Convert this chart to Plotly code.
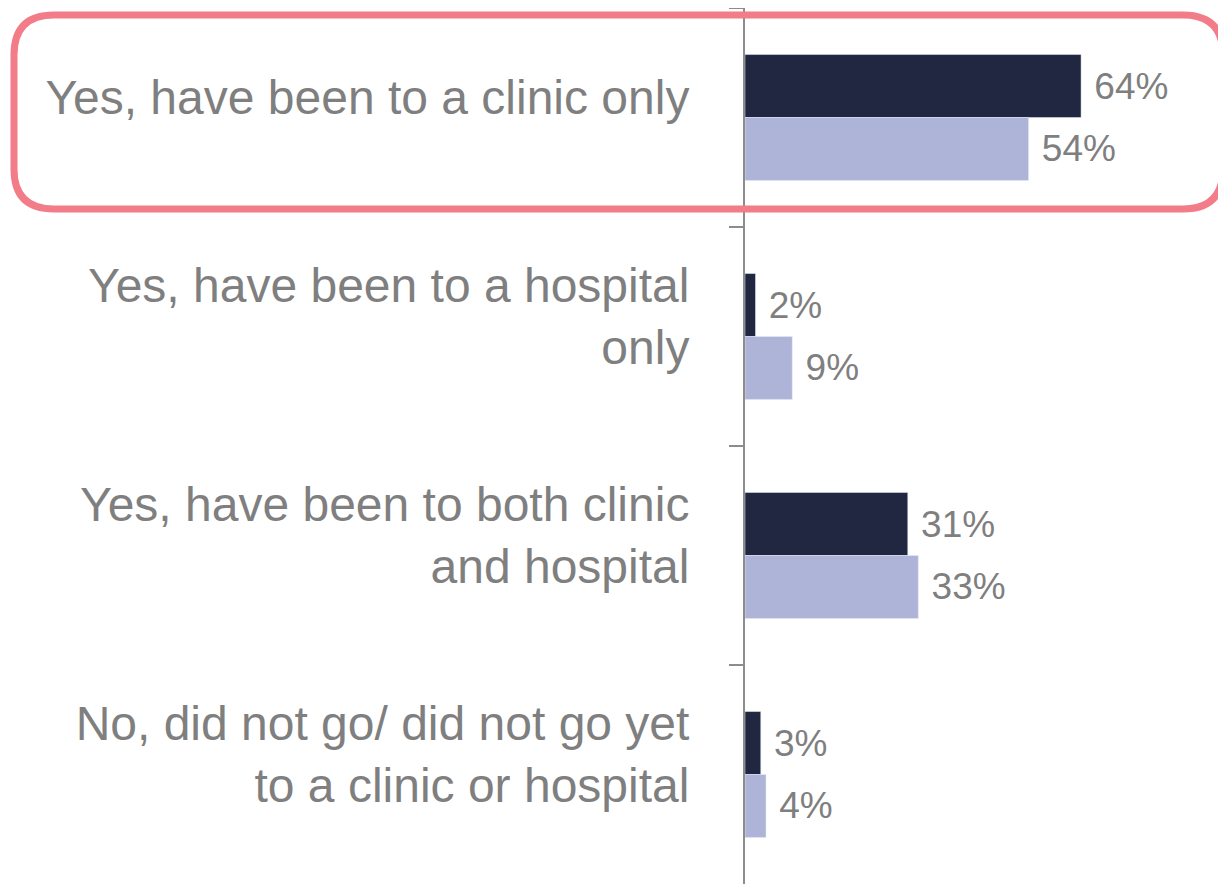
import plotly.graph_objects as go

categories = [
    "Yes, have been to a clinic only",
    "Yes, have been to a hospital<br>only",
    "Yes, have been to both clinic<br>and hospital",
    "No, did not go/ did not go yet<br>to a clinic or hospital",
]
series_a = [64, 2, 31, 3]
series_b = [54, 9, 33, 4]

GREY = "#7f7f7f"
FONT = "Liberation Sans, Arial, sans-serif"

fig = go.Figure()
fig.add_trace(
    go.Bar(
        y=categories,
        x=series_a,
        orientation="h",
        name="Wave 2",
        marker={"color": "#212641"},
        text=[f" {v}%" for v in series_a],
        textposition="outside",
        textfont={"size": 37, "color": GREY, "family": FONT},
        cliponaxis=False,
    )
)
fig.add_trace(
    go.Bar(
        y=categories,
        x=series_b,
        orientation="h",
        name="Wave 1",
        marker={"color": "#aeb4d7"},
        text=[f" {v}%" for v in series_b],
        textposition="outside",
        textfont={"size": 37, "color": GREY, "family": FONT},
        cliponaxis=False,
    )
)

# rounded highlight around the first row, in pixels from the plot's top-left corner
r = 40
x0, x1, y0, y1 = -731, 478, -7, -201
path = (
    f"M{x0 + r},{y0} L{x1 - r},{y0} Q{x1},{y0} {x1},{y0 - r} "
    f"L{x1},{y1 + r} Q{x1},{y1} {x1 - r},{y1} "
    f"L{x0 + r},{y1} Q{x0},{y1} {x0},{y1 + r} "
    f"L{x0},{y0 - r} Q{x0},{y0} {x0 + r},{y0} Z"
)
fig.add_shape(
    type="path",
    path=path,
    xref="paper",
    yref="paper",
    xsizemode="pixel",
    ysizemode="pixel",
    xanchor=0,
    yanchor=1,
    line={"color": "#f27c87", "width": 7},
    layer="above",
)

# page body adds 8px margin, so the figure is sized to fit the window
fig.update_layout(
    width=1218,
    height=876,
    barmode="group",
    bargap=0.425,
    bargroupgap=0,
    showlegend=False,
    plot_bgcolor="white",
    paper_bgcolor="white",
    font={"family": FONT, "color": GREY},
    margin={"l": 737, "r": 0, "t": 0, "b": 0},
)
fig.update_xaxes(range=[0, 91.6], visible=False)
fig.update_yaxes(
    autorange="reversed",
    showline=True,
    linecolor="#8c8c8c",
    linewidth=2,
    ticks="outside",
    tickson="boundaries",
    ticklen=14,
    tickwidth=2,
    tickcolor="#8c8c8c",
    tickfont={"size": 48, "color": GREY, "family": FONT},
    ticklabelstandoff=44,
    ticklabelshift=20,
    showgrid=False,
)

fig.write_html("out.html")
